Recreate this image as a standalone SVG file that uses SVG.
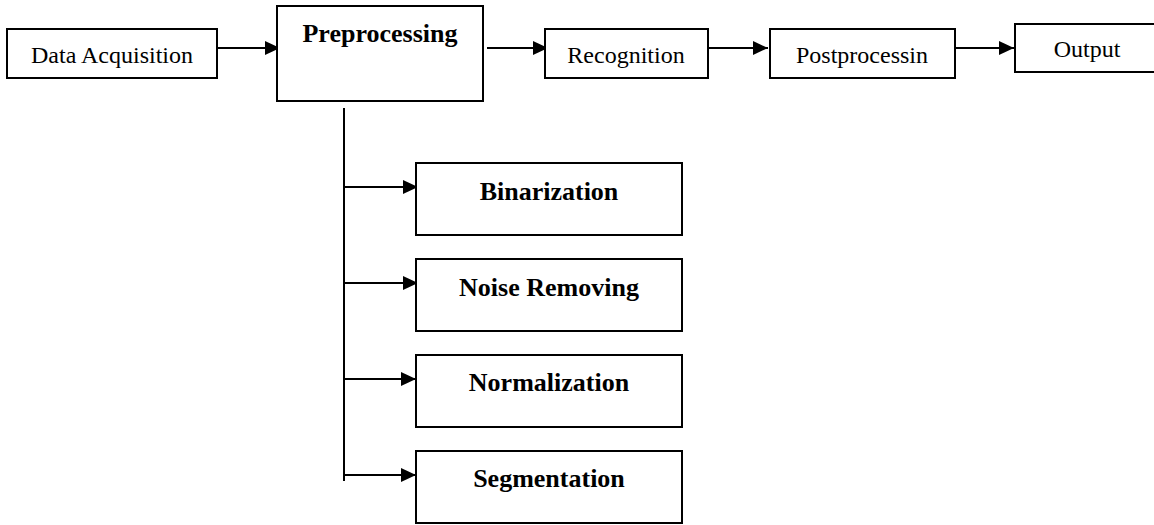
<svg xmlns="http://www.w3.org/2000/svg" width="1154" height="525" viewBox="0 0 1154 525">
  <style>
    .box { fill: #ffffff; stroke: #000000; stroke-width: 2; }
    .lbl { font-family: "Liberation Serif", "Times New Roman", serif; font-size: 24px; fill: #000000; text-anchor: middle; }
    .blbl { font-family: "Liberation Serif", "Times New Roman", serif; font-size: 26px; font-weight: bold; fill: #000000; text-anchor: middle; }
    .conn { stroke: #000000; stroke-width: 2; fill: none; }
  </style>
  <defs>
    <marker id="arrow" markerUnits="userSpaceOnUse" markerWidth="15" markerHeight="14" refX="15" refY="7" orient="auto">
      <path d="M0,0 L15,7 L0,14 Z" fill="#000000"/>
    </marker>
  </defs>
  <rect width="1154" height="525" fill="#ffffff"/>

  <g id="connectors">
    <line class="conn" x1="218" y1="48" x2="280" y2="48" marker-end="url(#arrow)"/>
    <line class="conn" x1="487" y1="48" x2="548" y2="48" marker-end="url(#arrow)"/>
    <line class="conn" x1="706" y1="48" x2="768" y2="48" marker-end="url(#arrow)"/>
    <line class="conn" x1="952" y1="48" x2="1014" y2="48" marker-end="url(#arrow)"/>
    <line class="conn" x1="344" y1="108" x2="344" y2="481"/>
    <line class="conn" x1="344" y1="187" x2="418" y2="187" marker-end="url(#arrow)"/>
    <line class="conn" x1="344" y1="283" x2="418" y2="283" marker-end="url(#arrow)"/>
    <line class="conn" x1="344" y1="379" x2="416" y2="379" marker-end="url(#arrow)"/>
    <line class="conn" x1="344" y1="475" x2="416" y2="475" marker-end="url(#arrow)"/>
  </g>

  <g id="data-acquisition">
    <rect class="box" x="7" y="29" width="210" height="49"/>
    <text class="lbl" x="112" y="63">Data Acquisition</text>
  </g>
  <g id="preprocessing">
    <rect class="box" x="277" y="6" width="206" height="95"/>
    <text class="blbl" x="380" y="42">Preprocessing</text>
  </g>
  <g id="recognition">
    <rect class="box" x="545" y="29" width="163" height="49"/>
    <text class="lbl" x="626" y="63">Recognition</text>
  </g>
  <g id="postprocessing">
    <rect class="box" x="770" y="29" width="185" height="49"/>
    <text class="lbl" x="862" y="63">Postprocessin</text>
  </g>
  <g id="output">
    <rect class="box" x="1015" y="24" width="150" height="48"/>
    <text class="lbl" x="1087" y="57">Output</text>
  </g>

  <g id="binarization">
    <rect class="box" x="416" y="163" width="266" height="72"/>
    <text class="blbl" x="549" y="200">Binarization</text>
  </g>
  <g id="noise-removing">
    <rect class="box" x="416" y="259" width="266" height="72"/>
    <text class="blbl" x="549" y="296">Noise Removing</text>
  </g>
  <g id="normalization">
    <rect class="box" x="416" y="355" width="266" height="72"/>
    <text class="blbl" x="549" y="391">Normalization</text>
  </g>
  <g id="segmentation">
    <rect class="box" x="416" y="451" width="266" height="72"/>
    <text class="blbl" x="549" y="487">Segmentation</text>
  </g>
</svg>
